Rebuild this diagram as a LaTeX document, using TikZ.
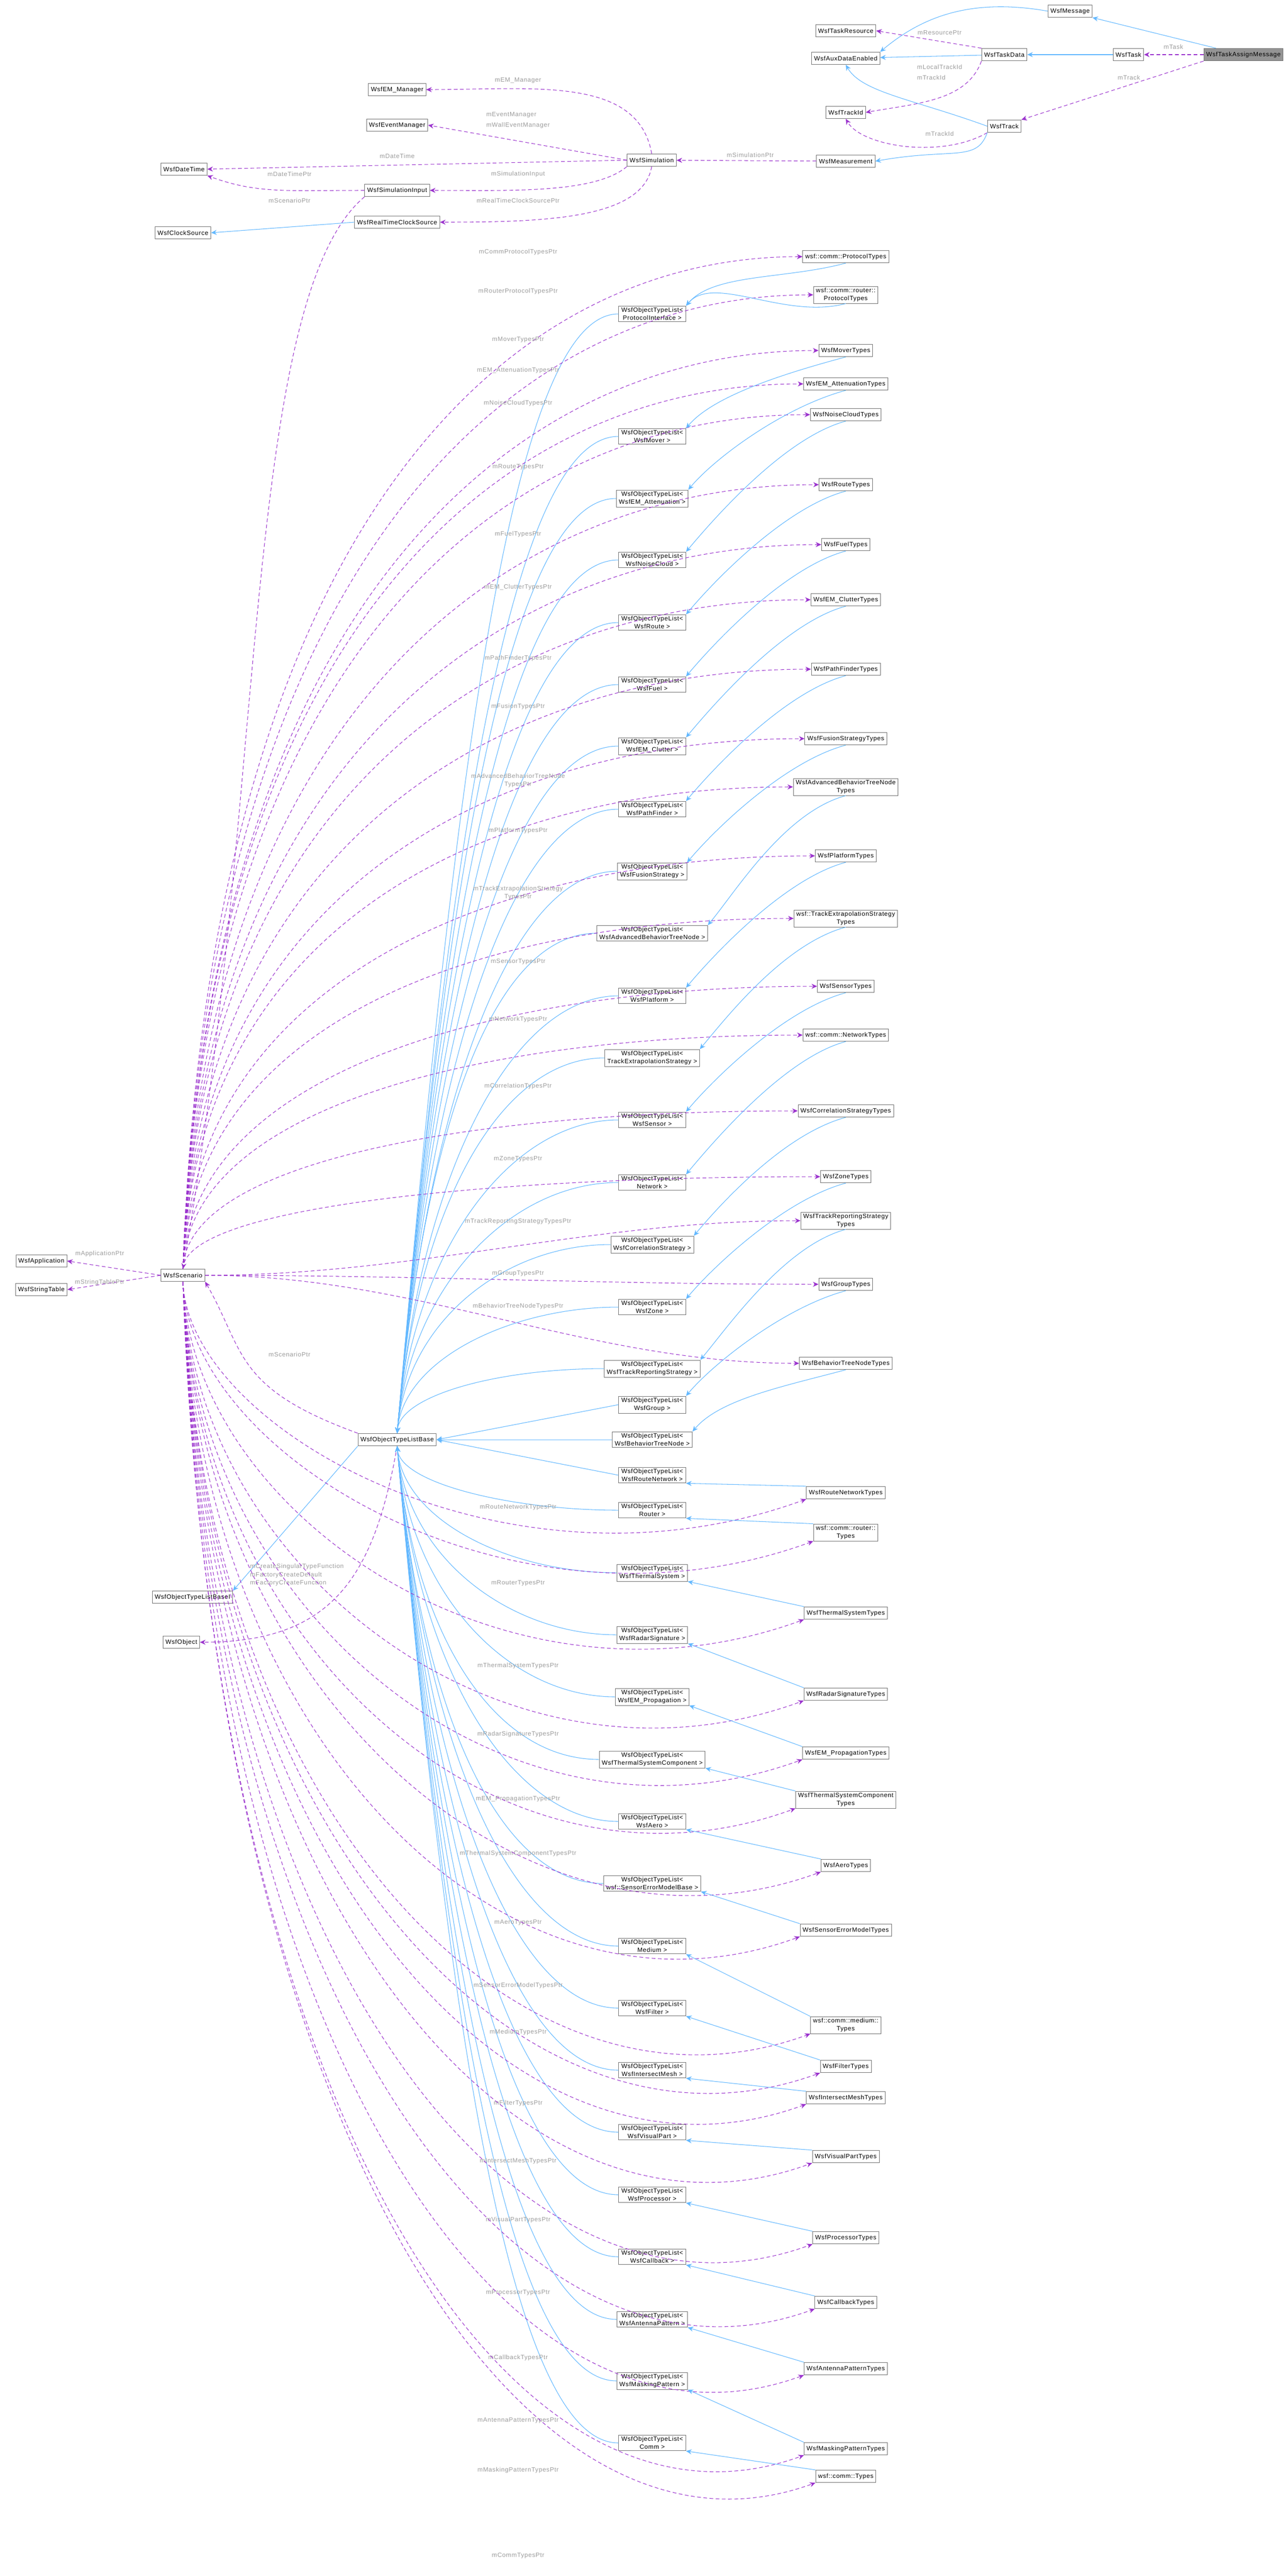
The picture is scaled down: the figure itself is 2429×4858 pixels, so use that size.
\documentclass[tikz,border=0pt]{standalone}
\usepackage{fontspec}
\setmainfont{Liberation Sans}[LetterSpace=6]
\usetikzlibrary{arrows.meta}
\definecolor{dep}{RGB}{154,50,205}
\definecolor{inh}{RGB}{99,184,255}
\definecolor{lbl}{RGB}{155,155,155}
\begin{document}
\begin{tikzpicture}[x=0.03cm,y=-0.03cm,
  box/.style={draw=black!55,fill=white,line width=0.8pt,align=center,inner xsep=4pt,inner ysep=2.5pt,minimum height=20pt,font=\fontsize{10}{13}\selectfont},
  lab/.style={text=lbl,align=left,font=\fontsize{10}{13}\selectfont,inner sep=1pt},
  dp/.style={draw=dep,dashed,dash pattern=on 6pt off 4pt,line width=0.9pt,-{Stealth[length=9pt,width=8pt]}},
  ih/.style={draw=inh,line width=0.9pt,-{Stealth[length=9pt,width=8pt]}}]
\useasboundingbox (0,0) rectangle (2429,4858);
% top part
\node[box,fill=black!42] (tam) at (2345,103) {WsfTaskAssignMessage};
\node[box] (msg) at (2018,21) {WsfMessage};
\node[box] (task) at (2128,103) {WsfTask};
\node[box] (td) at (1894,103) {WsfTaskData};
\node[box] (tres) at (1595,58) {WsfTaskResource};
\node[box] (aux) at (1595,110) {WsfAuxDataEnabled};
\node[box] (tid) at (1595,212) {WsfTrackId};
\node[box] (trk) at (1894,238) {WsfTrack};
\node[box] (meas) at (1595,304) {WsfMeasurement};
\node[box] (sim) at (1229,302) {WsfSimulation};
\node[box] (emm) at (749,169) {WsfEM\_Manager};
\node[box] (evm) at (749,236) {WsfEventManager};
\node[box] (dt) at (347,319) {WsfDateTime};
\node[box] (sin) at (749,359) {WsfSimulationInput};
\node[box] (rtc) at (749,419) {WsfRealTimeClockSource};
\node[box] (cs) at (345,439) {WsfClockSource};
\node[box] (sc) at (345,2405) {WsfScenario};
\node[box] (app) at (78,2378) {WsfApplication};
\node[box] (st) at (78,2432) {WsfStringTable};
\node[box] (base) at (749,2715) {WsfObjectTypeListBase};
\node[box] (basei) at (363,3012) {WsfObjectTypeListBaseI};
\node[box] (obj) at (342,3097) {WsfObject};

\coordinate (tamn) at ([xshift=20pt]tam.north west);
\draw[ih] (tamn) -- (msg.south east);
\draw[ih] (msg.west) .. controls +(-170:150) and +(-40:100) .. (aux.north east);
\draw[dp] (tam) -- (task);
\node[lab] (lTask) at (2213,88) {mTask};
\draw[dp] (tam.south west) -- (trk.north east);
\node[lab] (lTrack) at (2129,146) {mTrack};
\draw[ih] (task) -- (td);
\draw[ih] (td) -- (aux);
\draw[dp] (td.north west) -- (tres.east);
\node[lab] (lRes) at (1772,62) {mResourcePtr};
\draw[dp] (td.south west) .. controls +(110:80) and +(-10:100) .. (tid.east);
\node[lab] (lLoc) at (1772,136) {mLocalTrackId\\[4pt]mTrackId};
\draw[ih] (trk.west) .. controls +(-160:150) and +(60:60) .. (aux.south);
\draw[dp] (trk.south west) .. controls +(150:100) and +(60:60) .. (tid.south);
\node[lab] (lTid) at (1772,252) {mTrackId};
\draw[ih] (trk.south west) .. controls +(110:60) and +(-10:150) .. (meas.east);
\draw[dp] (meas) -- (sim);
\node[lab] (lSimP) at (1415,292) {mSimulationPtr};
\draw[dp] (sim.north) .. controls +(-100:150) and +(0:200) .. (emm.east);
\node[lab] (lEM) at (977,152) {mEM\_Manager};
\draw[dp] (sim.west) -- (evm.east);
\node[lab] (lEv) at (977,227) {mEventManager\\[4pt]mWallEventManager};
\draw[dp] (sim.west) -- (dt.east);
\node[lab] (lDT) at (749,294) {mDateTime};
\draw[dp] (sim.south west) .. controls +(140:80) and +(0:150) .. (sin.east);
\node[lab] (lSI) at (977,328) {mSimulationInput};
\draw[dp] (sim.south) .. controls +(100:100) and +(0:200) .. (rtc.east);
\node[lab] (lRT) at (977,378) {mRealTimeClockSourcePtr};
\draw[dp] (sin.west) .. controls +(180:150) and +(20:100) .. (dt.south east);
\node[lab] (lDTP) at (546,328) {mDateTimePtr};
\draw[dp] (sin.south west) .. controls +(140:300) and +(-80:900) .. (sc.north);
\node[lab] (lScP) at (546,378) {mScenarioPtr};
\draw[ih] (rtc.west) -- (cs.east);
\draw[dp] (sc.west) -- (app.east);
\draw[dp] (sc.west) -- (st.east);
\node[lab] (lApp) at (188,2364) {mApplicationPtr};
\node[lab] (lST) at (188,2418) {mStringTablePtr};
\draw[ih] (base.south west) -- (basei.north east);
\draw[dp] (base.south) .. controls +(100:250) and +(0:250) .. (obj.east);
\node[lab] (lFac) at (560,2970) {mCreateSingularTypeFunction\\mFactoryCreateDefault\\mFactoryCreateFunction};
\draw[dp] (base.north west) .. controls +(-160:250) and +(60:150) .. (sc.south east);
\node[lab] (lSc2) at (546,2554) {mScenarioPtr};

% middle column
\foreach \n/\y/\t in {
mPI/592/ProtocolInterface >,mMover/823/WsfMover >,mEMA/940/WsfEM\_Attenuation >,mNoise/1056/WsfNoiseCloud >,
mRoute/1174/WsfRoute >,mFuel/1291/WsfFuel >,mClutter/1407/WsfEM\_Clutter >,mPath/1526/WsfPathFinder >,
mFusion/1643/WsfFusionStrategy >,mAdvBT/1760/WsfAdvancedBehaviorTreeNode >,mPlat/1878/WsfPlatform >,
mTES/1995/TrackExtrapolationStrategy >,mSensor/2112/WsfSensor >,mNet/2230/Network >,mCorr/2347/WsfCorrelationStrategy >,
mZone/2465/WsfZone >,mTRS/2581/WsfTrackReportingStrategy >,mGroup/2649/WsfGroup >,mBTN/2715/WsfBehaviorTreeNode >,
mRN/2782/WsfRouteNetwork >,mRouter/2848/Router >,mThermal/2966/WsfThermalSystem >,mRadar/3083/WsfRadarSignature >,
mEMP/3200/WsfEM\_Propagation >,mTSC/3318/WsfThermalSystemComponent >,mAero/3435/WsfAero >,
mSEM/3552/wsf::SensorErrorModelBase >,mMedium/3670/Medium >,mFilter/3787/WsfFilter >,mIM/3904/WsfIntersectMesh >,
mVP/4021/WsfVisualPart >,mProc/4139/WsfProcessor >,mCb/4256/WsfCallback >,mAnt/4374/WsfAntennaPattern >,
mMask/4490/WsfMaskingPattern >,mComm/4607/Comm >}{
  \node[box,minimum width=108pt] (\n) at (1230,\y) {WsfObjectTypeList<\\\t};
  \ifnum\y<2640
    \draw[ih] (\n.west) .. controls +(180:200) and +(-85:{(2700-\y)*0.6}) .. (base.north);
  \else\ifnum\y>2790
    \draw[ih] (\n.west) .. controls +(180:200) and +(85:{(\y-2730)*0.6}) .. (base.south);
  \else
    \draw[ih] (\n.west) -- (base.east);
  \fi\fi
}

% right column
\foreach \n/\y/\t/\l/\ly in {
r1/484/wsf::comm::ProtocolTypes/mCommProtocolTypesPtr/475,
r2/556/{wsf::comm::router::\\ProtocolTypes}/mRouterProtocolTypesPtr/549,
r3/661/WsfMoverTypes/mMoverTypesPtr/641,
r4/724/WsfEM\_AttenuationTypes/mEM\_AttenuationTypesPtr/698,
r5/782/WsfNoiseCloudTypes/mNoiseCloudTypesPtr/760,
r6/914/WsfRouteTypes/mRouteTypesPtr/881,
r7/1027/WsfFuelTypes/mFuelTypesPtr/1007,
r8/1131/WsfEM\_ClutterTypes/mEM\_ClutterTypesPtr/1107,
r9/1262/WsfPathFinderTypes/mPathFinderTypesPtr/1241,
r10/1393/WsfFusionStrategyTypes/mFusionTypesPtr/1332,
r11/1484/{WsfAdvancedBehaviorTreeNode\\Types}/{mAdvancedBehaviorTreeNode\\TypesPtr}/1472,
r12/1614/WsfPlatformTypes/mPlatformTypesPtr/1566,
r13/1732/{wsf::TrackExtrapolationStrategy\\Types}/{mTrackExtrapolationStrategy\\TypesPtr}/1684,
r14/1860/WsfSensorTypes/mSensorTypesPtr/1814,
r15/1952/wsf::comm::NetworkTypes/mNetworkTypesPtr/1922,
r16/2095/WsfCorrelationStrategyTypes/mCorrelationTypesPtr/2048,
r17/2219/WsfZoneTypes/mZoneTypesPtr/2186,
r18/2302/{WsfTrackReportingStrategy\\Types}/mTrackReportingStrategyTypesPtr/2303,
r19/2422/WsfGroupTypes/mGroupTypesPtr/2402,
r20/2571/WsfBehaviorTreeNodeTypes/mBehaviorTreeNodeTypesPtr/2463,
r21/2815/WsfRouteNetworkTypes/mRouteNetworkTypesPtr/2842,
r22/2890/{wsf::comm::router::\\Types}/mRouterTypesPtr/2986,
r23/3042/WsfThermalSystemTypes/mThermalSystemTypesPtr/3141,
r24/3195/WsfRadarSignatureTypes/mRadarSignatureTypesPtr/3270,
r25/3306/WsfEM\_PropagationTypes/mEM\_PropagationTypesPtr/3392,
r26/3394/{WsfThermalSystemComponent\\Types}/mThermalSystemComponentTypesPtr/3495,
r27/3518/WsfAeroTypes/mAeroTypesPtr/3626,
r28/3640/WsfSensorErrorModelTypes/mSensorErrorModelTypesPtr/3744,
r29/3819/{wsf::comm::medium::\\Types}/mMediumTypesPtr/3832,
r30/3897/WsfFilterTypes/mFilterTypesPtr/3966,
r31/3956/WsfIntersectMeshTypes/mIntersectMeshTypesPtr/4075,
r32/4067/WsfVisualPartTypes/mVisualPartTypesPtr/4186,
r33/4220/WsfProcessorTypes/mProcessorTypesPtr/4324,
r34/4342/WsfCallbackTypes/mCallbackTypesPtr/4446,
r35/4467/WsfAntennaPatternTypes/mAntennaPatternTypesPtr/4565,
r36/4618/WsfMaskingPatternTypes/mMaskingPatternTypesPtr/4658,
r37/4670/wsf::comm::Types/mCommTypesPtr/4820}{
  \node[box] (\n) at (1595,\y) {\t};
  \node[lab,align=center] (l\n) at (977,\ly) {\l};
  \ifnum\y<2300
    \draw[dp] (sc.north) .. controls +(-88:{(2390-\y)*0.7}) and +(180:600) .. (\n.west);
  \else\ifnum\y<2600
    \draw[dp] (sc.east) .. controls +(0:400) and +(180:400) .. (\n.west);
  \else
    \draw[dp] (sc.south) .. controls +(88:{(\y-2420)*0.7}) and +(160:600) .. (\n.south west);
  \fi\fi
}
\foreach \n/\m in {r1/mPI,r2/mPI,r3/mMover,r4/mEMA,r5/mNoise,r6/mRoute,r7/mFuel,r8/mClutter,r9/mPath,r10/mFusion,
  r11/mAdvBT,r12/mPlat,r13/mTES,r14/mSensor,r15/mNet,r16/mCorr,r17/mZone,r18/mTRS,r19/mGroup,r20/mBTN}{
  \draw[ih] (\n.south) .. controls +(165:120) and +(-50:80) .. (\m.north east);
}
\foreach \n/\m in {r21/mRN,r22/mRouter,r23/mThermal,r24/mRadar,r25/mEMP,r26/mTSC,r27/mAero,r28/mSEM,r29/mMedium,
  r30/mFilter,r31/mIM,r32/mVP,r33/mProc,r34/mCb,r35/mAnt,r36/mMask,r37/mComm}{
  \draw[ih] (\n.north west) -- (\m.south east);
}
\end{tikzpicture}
\end{document}
